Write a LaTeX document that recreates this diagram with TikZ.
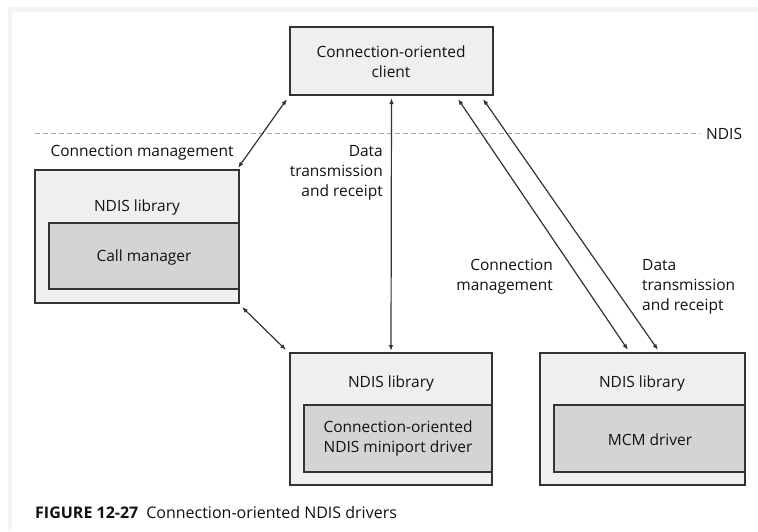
\documentclass[tikz,border=0pt]{standalone}
\usepackage{fontspec}
\setmainfont{Open Sans}
\usetikzlibrary{arrows.meta}
\definecolor{boxfill}{HTML}{EFEFEF}
\definecolor{innerfill}{HTML}{D4D4D4}
\definecolor{edge}{HTML}{333333}
\definecolor{txt}{HTML}{111111}
\definecolor{band}{HTML}{F4F4F4}
\begin{document}
\begin{tikzpicture}[x=1pt,y=-1pt,
  box/.style={draw=edge, line width=1.4pt, fill=boxfill, anchor=north west, inner sep=0pt, outer sep=0pt},
  inbox/.style={draw=edge, line width=1.4pt, fill=innerfill, anchor=north west, inner sep=0pt, outer sep=0pt},
  lbl/.style={font=\fontsize{15.5}{20}\selectfont, text=txt, inner sep=0pt, align=center},
  conn/.style={draw=edge, line width=1.2pt, {Latex[length=6pt,width=4.5pt]}-{Latex[length=6pt,width=4.5pt]}},
]
\useasboundingbox (0,0) rectangle (758,531);
\fill[white] (0,0) rectangle (758,531);
\fill[band] (8,7) rectangle (758,12);
\fill[band] (8,7) rectangle (12,531);

% boxes
\node[box, minimum width=203, minimum height=68] (client) at (290,27) {};
\node[box, minimum width=204, minimum height=133] (lib1) at (35,170) {};
\node[inbox, minimum width=190, minimum height=66] (callmgr) at (49,223) {};
\node[box, minimum width=202, minimum height=132] (lib2) at (290,353) {};
\node[inbox, minimum width=188, minimum height=67] (mini) at (304,405) {};
\node[box, minimum width=205, minimum height=132] (lib3) at (540,353) {};
\node[inbox, minimum width=191, minimum height=67] (mcm) at (554,405) {};

% texts
\node[lbl] (tclient) at (391,62) {Connection-oriented\\client};
\node[lbl] (tlib1) at (137,207) {NDIS library};
\node[lbl] (tcall) at (144,257) {Call manager};
\node[lbl] (tlib2) at (391,383) {NDIS library};
\node[lbl] (tmini) at (398,438) {Connection-oriented\\NDIS miniport driver};
\node[lbl] (tlib3) at (642,383) {NDIS library};
\node[lbl] (tmcm) at (650,440) {MCM driver};

\node[lbl] (lcm1) at (142,153) {Connection management};
\node[lbl, anchor=east, align=right] (ldata1) at (383,173) {Data\\transmission\\and receipt};
\node[lbl, anchor=east, align=right] (lcm2) at (553,277) {Connection\\management};
\node[lbl, anchor=west, align=left] (ldata2) at (642,287) {Data\\transmission\\and receipt};

% NDIS boundary
\coordinate (dl) at (35,133);
\coordinate (dr) at (700,133);
\draw[gray!70, line width=0.8pt, dash pattern=on 5pt off 3pt] (dl) -- (dr);
\node[lbl, anchor=west] (ndis) at (706,134) {NDIS};

% connectors
\coordinate (a1s) at (287,99);
\coordinate (a1e) at (238,168);
\draw[conn] (a1s) -- (a1e);
\coordinate (a2s) at (242,307);
\coordinate (a2e) at (286,350);
\draw[conn] (a2s) -- (a2e);
\draw[conn] ([yshift=-3pt]client.south) -- ([yshift=2pt]lib2.north);
\coordinate (a4s) at (458,99);
\coordinate (a4e) at (628,350);
\draw[conn] (a4s) -- (a4e);
\coordinate (a5s) at (483,99);
\coordinate (a5e) at (658,350);
\draw[conn] (a5s) -- (a5e);

% caption
\node[anchor=west, inner sep=0pt, text=txt, font=\fontsize{16}{18}\selectfont] (cap) at (35,512) {\textbf{FIGURE 12-27}\enspace Connection-oriented NDIS drivers};
\end{tikzpicture}
\end{document}
